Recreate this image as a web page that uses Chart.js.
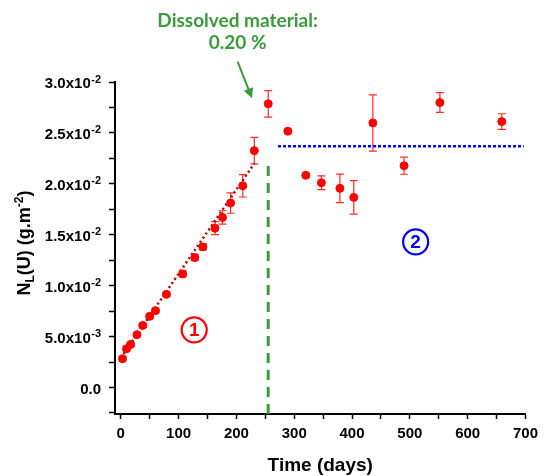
<!DOCTYPE html>
<html>
<head>
<meta charset="utf-8">
<script src="https://cdn.jsdelivr.net/npm/chart.js@4.4.1/dist/chart.umd.min.js"></script>
<style>
  html, body { margin: 0; padding: 0; background: #fff; }
  #wrap { width: 544px; height: 476px; }
</style>
</head>
<body>
<div id="wrap"><canvas id="leachChart"></canvas></div>
<script>
// measured leaching values (days, g.m-2, error)
const days = [3, 10, 17, 28, 38, 50, 60, 79, 107, 128, 142, 163, 176, 190, 211, 231, 255, 289, 320, 347, 379, 403, 436, 490, 552, 659];
const nlu = [0.00283, 0.00381, 0.00423, 0.00519, 0.0061, 0.00699, 0.00755, 0.00915, 0.01115, 0.01277, 0.01381, 0.01565, 0.0167, 0.01811, 0.01981, 0.02326,
             0.02786, 0.02517, 0.02084, 0.02011, 0.01956, 0.01867, 0.02598, 0.02178, 0.02798, 0.02611];
const nluErr = [0.0002, 0.0002, 0.0002, 0.0002, 0.0002, 0.0002, 0.0002, 0.0002, 0.0003, 0.0003, 0.0003, 0.00064, 0.00066, 0.001, 0.0011, 0.0013,
                0.0013, 0.0002, 0.0002, 0.00067, 0.0014, 0.00164, 0.00276, 0.00084, 0.00097, 0.00077];

// stage 1 linear trend
const fitDays = [0, 231];
const fitValues = [0.0029, 0.0220];

// stage 2 plateau
const plateauDays = [272, 697];
const plateauValues = [0.02369, 0.02369];

// end of stage 1
const breakDays = [255, 255];
const breakValues = [-0.0026, 0.0218];

// axes
const xTickValues = [0, 100, 200, 300, 400, 500, 600, 700];
const xTickLabels = ['0', '100', '200', '300', '400', '500', '600', '700'];
const yTickValues = [0, 0.005, 0.01, 0.015, 0.02, 0.025, 0.03];
const yTickLabels = ['0.0', '5.0x10', '1.0x10', '1.5x10', '2.0x10', '2.5x10', '3.0x10'];
const yTickExps = ['', '-3', '-2', '-2', '-2', '-2', '-2'];

const FONT = "'Liberation Sans', Arial, sans-serif";
const GREEN = '#3c9a3c';

function toPoints(xs, ys) {
  return xs.map((x, i) => ({ x: x, y: ys[i] }));
}

function findLabel(values, labels, v) {
  const i = values.findIndex(t => Math.abs(t - v) < 1e-9);
  return i >= 0 ? labels[i] : '';
}

const extras = {
  id: 'extras',
  beforeDatasetsDraw(chart) {
    const { ctx, scales: { x, y } } = chart;
    ctx.save();
    ctx.strokeStyle = '#ff2a2a';
    ctx.lineWidth = 1.2;
    days.forEach((d, i) => {
      const px = x.getPixelForValue(d);
      const top = y.getPixelForValue(nlu[i] + nluErr[i]);
      const bot = y.getPixelForValue(nlu[i] - nluErr[i]);
      ctx.beginPath();
      ctx.moveTo(px, top); ctx.lineTo(px, bot);
      ctx.moveTo(px - 4, top); ctx.lineTo(px + 4, top);
      ctx.moveTo(px - 4, bot); ctx.lineTo(px + 4, bot);
      ctx.stroke();
    });
    ctx.restore();
  },
  afterDraw(chart) {
    const { ctx, scales: { x, y }, chartArea } = chart;
    ctx.save();
    ctx.fillStyle = '#000';

    // y tick labels with exponent
    const right = y.right - 14;
    yTickValues.forEach((v, i) => {
      const py = y.getPixelForValue(v);
      ctx.textBaseline = 'alphabetic';
      ctx.textAlign = 'right';
      let end = right;
      if (yTickExps[i]) {
        ctx.font = 'bold 11px ' + FONT;
        ctx.fillText(yTickExps[i], end, py + 0.5);
        end -= ctx.measureText(yTickExps[i]).width + 0.5;
      }
      ctx.font = 'bold 15px ' + FONT;
      ctx.fillText(yTickLabels[i], end, py + 6);
    });

    // x title
    ctx.font = 'bold 19px ' + FONT;
    ctx.textAlign = 'center';
    ctx.textBaseline = 'alphabetic';
    ctx.fillText('Time (days)', (chartArea.left + chartArea.right) / 2, 471);

    // y title with sub/superscript
    const parts = [
      { t: 'N', size: 18, dy: 0 },
      { t: 'L', size: 12, dy: 4 },
      { t: '(U) (g.m', size: 18, dy: 0 },
      { t: '-2', size: 12, dy: -7 },
      { t: ')', size: 18, dy: 0 }
    ];
    let total = 0;
    parts.forEach(p => { ctx.font = 'bold ' + p.size + 'px ' + FONT; p.w = ctx.measureText(p.t).width; total += p.w; });
    ctx.translate(30, 243);
    ctx.rotate(-Math.PI / 2);
    ctx.textAlign = 'left';
    let cx = -total / 2;
    parts.forEach(p => {
      ctx.font = 'bold ' + p.size + 'px ' + FONT;
      ctx.fillText(p.t, cx, p.dy);
      cx += p.w;
    });
    ctx.setTransform(1, 0, 0, 1, 0, 0);

    // annotation: dissolved material
    const tx = x.getPixelForValue(202);
    ctx.fillStyle = GREEN;
    ctx.font = "bold 19px Lato, 'Open Sans', sans-serif";
    ctx.textAlign = 'center';
    ctx.fillText('Dissolved material:', tx, y.getPixelForValue(0.0354));
    ctx.fillText('0.20 %', tx, y.getPixelForValue(0.0332));

    // arrow
    const ax0 = x.getPixelForValue(202), ay0 = y.getPixelForValue(0.032);
    const ax1 = x.getPixelForValue(227), ay1 = y.getPixelForValue(0.0284);
    const ang = Math.atan2(ay1 - ay0, ax1 - ax0);
    ctx.strokeStyle = GREEN;
    ctx.lineWidth = 2;
    ctx.beginPath();
    ctx.moveTo(ax0, ay0);
    ctx.lineTo(ax1 - 6 * Math.cos(ang), ay1 - 6 * Math.sin(ang));
    ctx.stroke();
    ctx.beginPath();
    ctx.moveTo(ax1, ay1);
    ctx.lineTo(ax1 - 10 * Math.cos(ang) + 5 * Math.sin(ang), ay1 - 10 * Math.sin(ang) - 5 * Math.cos(ang));
    ctx.lineTo(ax1 - 10 * Math.cos(ang) - 5 * Math.sin(ang), ay1 - 10 * Math.sin(ang) + 5 * Math.cos(ang));
    ctx.closePath();
    ctx.fill();

    // stage markers
    const stages = [
      { t: '1', d: 127, v: 0.00566, c: '#ff0000' },
      { t: '2', d: 510, v: 0.0143, c: '#0000ff' }
    ];
    stages.forEach(s => {
      const sx = x.getPixelForValue(s.d), sy = y.getPixelForValue(s.v);
      ctx.strokeStyle = s.c;
      ctx.fillStyle = s.c;
      ctx.lineWidth = 2.2;
      ctx.beginPath();
      ctx.arc(sx, sy, 12.5, 0, Math.PI * 2);
      ctx.stroke();
      ctx.font = 'bold 19px ' + FONT;
      ctx.textAlign = 'center';
      ctx.textBaseline = 'middle';
      ctx.fillText(s.t, sx, sy + 1);
    });
    ctx.restore();
  }
};

Chart.defaults.font.family = FONT;
Chart.defaults.color = '#000';

new Chart(document.getElementById('leachChart'), {
  type: 'scatter',
  data: {
    datasets: [
      {
        label: 'NL(U)',
        data: toPoints(days, nlu),
        backgroundColor: '#ff0000',
        borderColor: '#ff0000',
        pointRadius: 4,
        showLine: false
      },
      {
        label: 'trend',
        data: toPoints(fitDays, fitValues),
        showLine: true,
        pointRadius: 0,
        borderColor: '#b00000',
        borderWidth: 2.5,
        borderDash: [2, 3]
      },
      {
        label: 'plateau',
        data: toPoints(plateauDays, plateauValues),
        showLine: true,
        pointRadius: 0,
        borderColor: '#0000ff',
        borderWidth: 2.5,
        borderDash: [3, 2]
      },
      {
        label: 'break',
        data: toPoints(breakDays, breakValues),
        showLine: true,
        pointRadius: 0,
        borderColor: GREEN,
        borderWidth: 3,
        borderDash: [10, 7]
      }
    ]
  },
  options: {
    responsive: true,
    maintainAspectRatio: false,
    animation: false,
    layout: { padding: { left: 0, top: 82, right: 15, bottom: 0 } },
    plugins: { legend: { display: false }, tooltip: { enabled: false } },
    scales: {
      x: {
        type: 'linear',
        min: -10,
        max: 700,
        afterFit: (scale) => { scale.height = 62; },
        border: { display: true, color: '#000', width: 2 },
        grid: { drawOnChartArea: false, drawTicks: true, tickLength: 5, tickColor: '#000', tickWidth: 1.5 },
        ticks: {
          stepSize: 50,
          autoSkip: false,
          maxRotation: 0,
          includeBounds: false,
          padding: 6,
          font: { size: 15, weight: 'bold' },
          callback: (v) => findLabel(xTickValues, xTickLabels, v)
        }
      },
      y: {
        type: 'linear',
        min: -0.0026,
        max: 0.03,
        afterFit: (scale) => { scale.width = 115; },
        border: { display: true, color: '#000', width: 2 },
        grid: { drawOnChartArea: false, drawTicks: true, tickLength: 6, tickColor: '#000', tickWidth: 1.5 },
        ticks: {
          stepSize: 0.0025,
          autoSkip: false,
          includeBounds: false,
          display: false
        }
      }
    }
  },
  plugins: [extras]
});
</script>
</body>
</html>
